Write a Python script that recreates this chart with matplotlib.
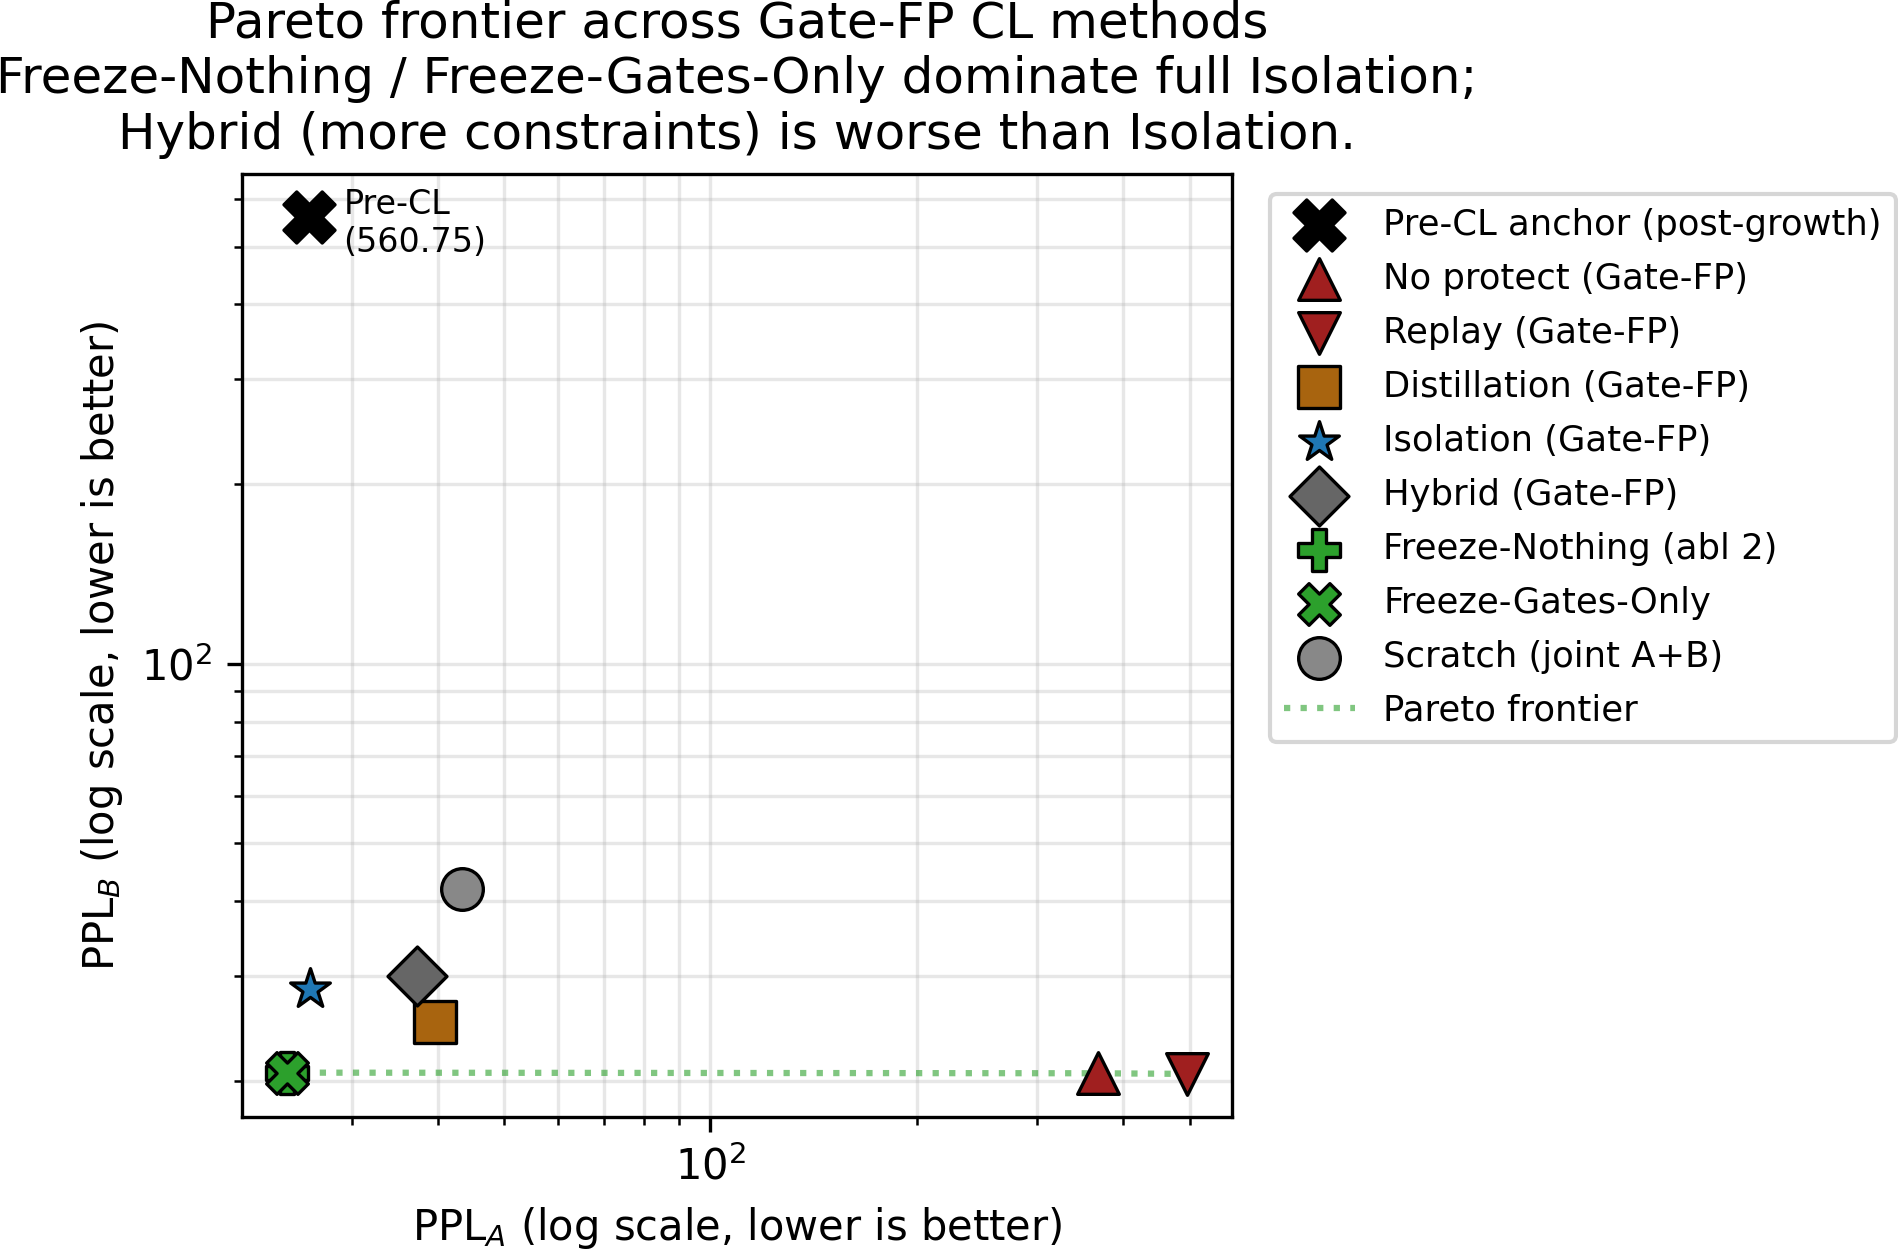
import numpy as np
import matplotlib
matplotlib.use("Agg")
import matplotlib.pyplot as plt

# ---- data ----
methods = ["Pre-CL anchor (post-growth)", "No protect (Gate-FP)", "Replay (Gate-FP)",
           "Distillation (Gate-FP)", "Isolation (Gate-FP)", "Hybrid (Gate-FP)",
           "Freeze-Nothing (abl 2)", "Freeze-Gates-Only", "Scratch (joint A+B)"]
ppl_a = [26.0, 368.0, 496.0, 39.7, 26.1, 37.3, 24.1, 24.1, 43.4]
ppl_b = [560.75, 20.60, 20.55, 25.1, 28.5, 30.0, 20.65, 20.65, 41.9]
markers = ["X", "^", "v", "s", "*", "D", "P", "X", "o"]
colors = ["black", "#a01f1f", "#a01f1f", "#a8640f", "#1f77b4", "#666666",
          "#2ca02c", "#2ca02c", "#888888"]
sizes = [150, 100, 100, 100, 100, 100, 100, 100, 100]
precl_label = "Pre-CL\n(560.75)"

fig = plt.figure(figsize=(1898 / 300, 1250 / 300), dpi=300)
ax = fig.add_axes([0.1273, 0.1066, 0.5219, 0.7542])
ax.set_xscale("log")
ax.set_yscale("log")

# Pareto frontier (lower is better on both axes), computed from the data
cl_idx = list(range(1, len(methods) - 1))
order = sorted(cl_idx, key=lambda i: (ppl_a[i], ppl_b[i]))
front = []
best = np.inf
for i in order:
    if ppl_b[i] < best:
        front.append(i)
        best = ppl_b[i]
fx = [ppl_a[i] for i in front]
fy = [ppl_b[i] for i in front]

for i, m in enumerate(methods):
    ax.scatter(ppl_a[i], ppl_b[i], marker=markers[i], s=sizes[i], c=colors[i],
               edgecolors="black", linewidths=0.8, label=m, zorder=3)

ax.plot(fx, fy, linestyle=":", color="#2ca02c", alpha=0.6, linewidth=1.5,
        label="Pareto frontier", zorder=2)

ax.annotate(precl_label, (ppl_a[0], ppl_b[0]), xytext=(8.2, -1.5),
            textcoords="offset points", ha="left", va="center", fontsize=8)

ax.grid(True, which="both", alpha=0.3)
ax.set_xlabel("PPL$_A$ (log scale, lower is better)", fontsize=10)
ax.set_ylabel("PPL$_B$ (log scale, lower is better)", fontsize=10)
ax.set_title("Pareto frontier across Gate-FP CL methods\n"
             "Freeze-Nothing / Freeze-Gates-Only dominate full Isolation;\n"
             "Hybrid (more constraints) is worse than Isolation.", fontsize=12)
ax.legend(loc="upper left", bbox_to_anchor=(1.02, 0.998), fontsize=8.5,
          labelspacing=0.565)

fig.savefig("out.png", dpi=300)
